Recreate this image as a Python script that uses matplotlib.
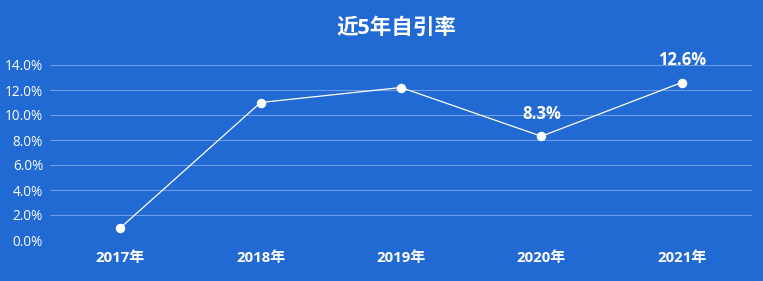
import matplotlib
matplotlib.use("Agg")
import matplotlib.pyplot as plt
from matplotlib.ticker import FuncFormatter

plt.rcParams["font.family"] = ["Open Sans", "Noto Sans CJK SC", "DejaVu Sans"]

years = ["2017年", "2018年", "2019年", "2020年", "2021年"]
rates = [0.96, 11.0, 12.2, 8.3, 12.6]
labelled = [False, False, False, True, True]
y_ticks = [0, 2, 4, 6, 8, 10, 12, 14]

bg = "#2169d3"
grid_color = "#6c9ce6"

fig = plt.figure(figsize=(7.63, 2.81), dpi=100, facecolor=bg)
ax = fig.add_axes([50 / 763, 41 / 281, 702 / 763, 175 / 281])
ax.set_facecolor(bg)

x = list(range(len(years)))
ax.plot(x, rates, color="white", linewidth=0.9, marker="o",
        markersize=5.8, markerfacecolor="white", markeredgecolor="white",
        clip_on=False, zorder=3)

# only the last two points carry a value label
for xi, v, show in zip(x, rates, labelled):
    if show:
        ax.annotate(f"{v:.1f}%", (xi, v), xytext=(0, 9.5), textcoords="offset points",
                    ha="center", va="bottom", color="white", fontsize=12,
                    fontweight="bold", annotation_clip=False)

ax.set_xlim(-0.5, 4.5)
ax.set_ylim(0, 14)
ax.set_yticks(y_ticks)
ax.yaxis.set_major_formatter(FuncFormatter(lambda v, p: f"{v:.1f}%"))
ax.set_xticks(x)
ax.set_xticklabels(years, fontweight="bold", fontsize=10.8)
ax.grid(axis="y", color=grid_color, linewidth=0.8)
ax.set_axisbelow(True)
for s in ax.spines.values():
    s.set_visible(False)
ax.tick_params(axis="both", length=0, colors="white")
ax.tick_params(axis="y", labelsize=9.8, pad=5)
ax.tick_params(axis="x", pad=8)

fig.text(396 / 763, 1 - 28 / 281, "近5年自引率", ha="center", va="center",
         color="white", fontsize=15.5, fontweight="bold")

fig.savefig("out.png", dpi=100, facecolor=bg)
